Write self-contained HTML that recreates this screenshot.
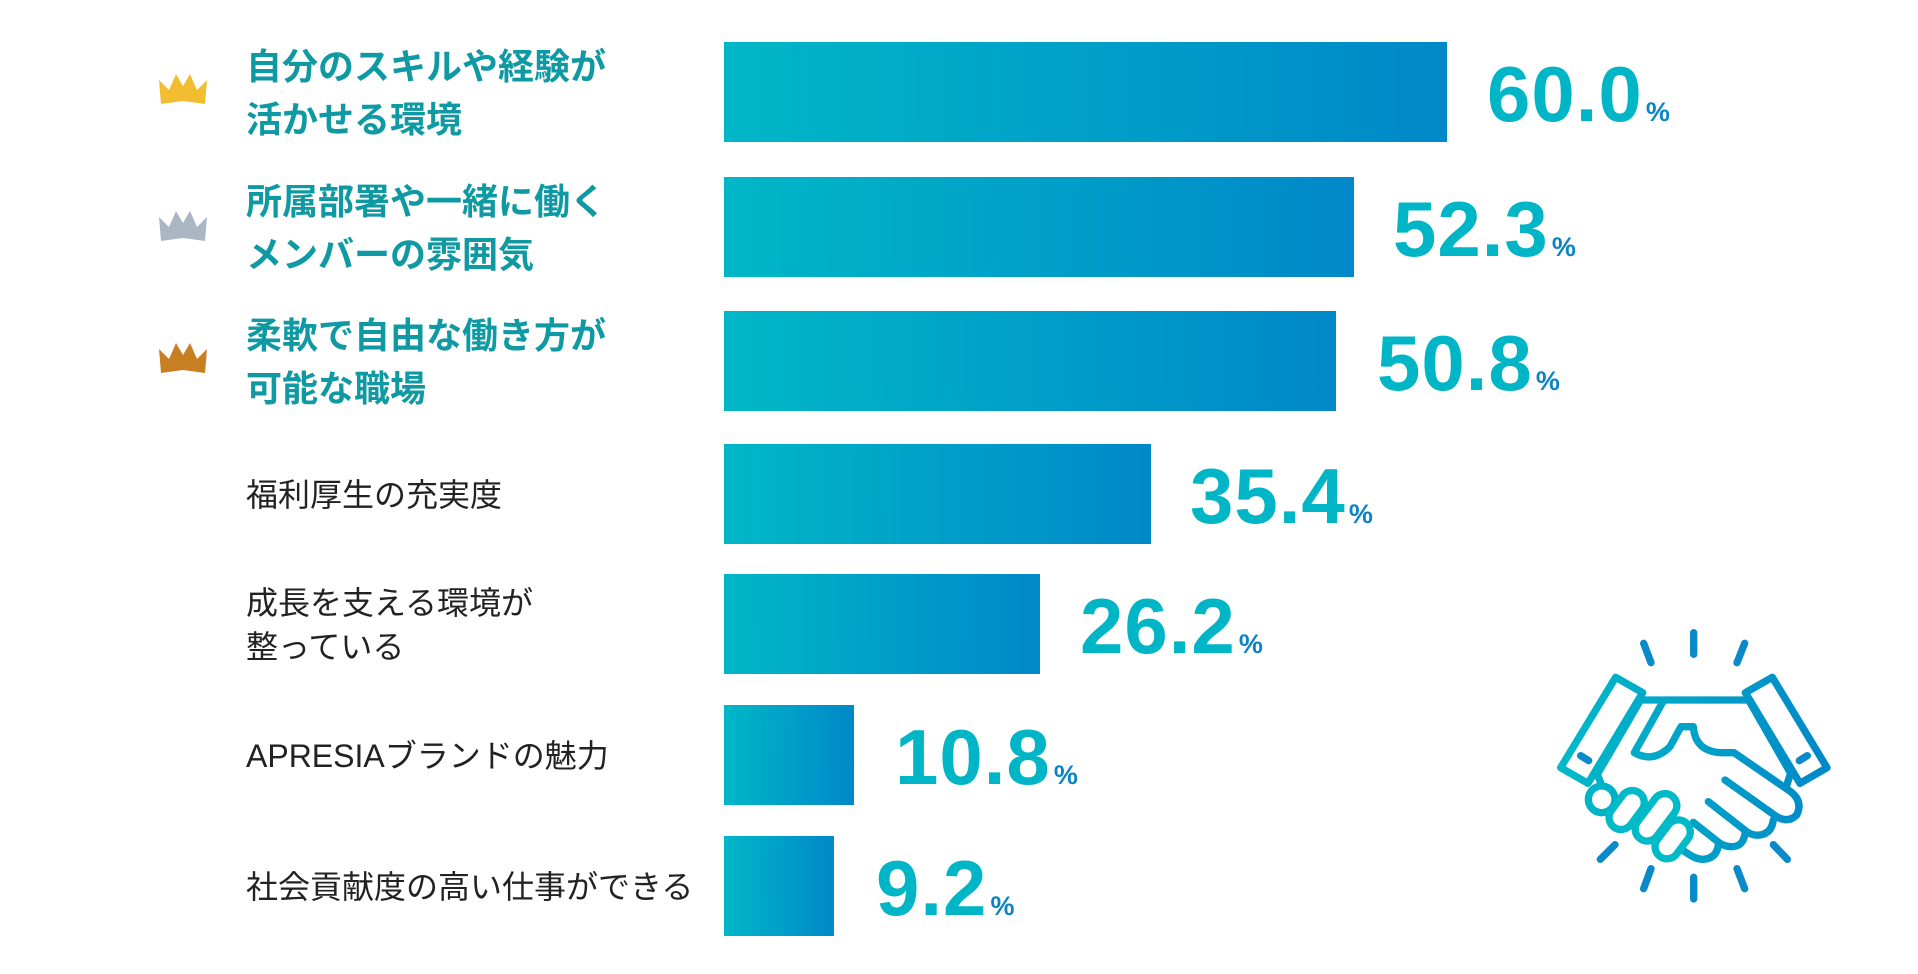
<!DOCTYPE html>
<html><head><meta charset="utf-8"><style>
html,body{margin:0;padding:0;background:#fff;width:1918px;height:974px;overflow:hidden;position:relative}
.bar{position:absolute;left:724px;height:100px;background:linear-gradient(90deg,#00b7c7,#0088c8)}
.val{position:absolute;height:100px;line-height:100px;font-family:"Liberation Sans",sans-serif;font-weight:bold;font-size:78px;color:#00b5c6;white-space:nowrap;letter-spacing:1px}
.val span{font-size:27px;color:#0a84c4;margin-left:3px}
.lab{position:absolute;left:246px;height:100px;display:flex;flex-direction:column;justify-content:center;font-family:"Liberation Sans","Noto Sans CJK JP",sans-serif;white-space:nowrap;padding-top:1px}
.b{font-weight:bold;color:#0f9aa3;font-size:36px;line-height:53px}
.n{color:#222;font-size:32px;line-height:44px}
.crown{position:absolute;left:157px;width:52px;height:36px}
</style></head><body>
<div class="bar" style="top:42px;width:723px"></div>
<div class="bar" style="top:177px;width:630px"></div>
<div class="bar" style="top:311px;width:612px"></div>
<div class="bar" style="top:444px;width:427px"></div>
<div class="bar" style="top:574px;width:316px"></div>
<div class="bar" style="top:705px;width:130px"></div>
<div class="bar" style="top:836px;width:110px"></div>

<div class="val" style="top:44px;left:1487px">60.0<span>%</span></div>
<div class="val" style="top:179px;left:1393px">52.3<span>%</span></div>
<div class="val" style="top:313px;left:1377px">50.8<span>%</span></div>
<div class="val" style="top:446px;left:1190px">35.4<span>%</span></div>
<div class="val" style="top:576px;left:1080px">26.2<span>%</span></div>
<div class="val" style="top:707px;left:895px">10.8<span>%</span></div>
<div class="val" style="top:838px;left:876px">9.2<span>%</span></div>

<div class="lab" style="top:42px"><div class="b">自分のスキルや経験が</div><div class="b">活かせる環境</div></div>
<div class="lab" style="top:177px"><div class="b">所属部署や一緒に働く</div><div class="b">メンバーの雰囲気</div></div>
<div class="lab" style="top:311px"><div class="b">柔軟で自由な働き方が</div><div class="b">可能な職場</div></div>
<div class="lab" style="top:444px"><div class="n">福利厚生の充実度</div></div>
<div class="lab" style="top:574px"><div class="n">成長を支える環境が</div><div class="n">整っている</div></div>
<div class="lab" style="top:705px"><div class="n">APRESIAブランドの魅力</div></div>
<div class="lab" style="top:836px"><div class="n">社会貢献度の高い仕事ができる</div></div>

<svg class="crown" style="top:70px" viewBox="0 0 52 36"><polygon points="2,10 12,20 19,4 26,16 33,4 40,20 50,10 48,34 26,31 4,34" fill="#f3bd32"/></svg>
<svg class="crown" style="top:207px" viewBox="0 0 52 36"><polygon points="2,10 12,20 19,4 26,16 33,4 40,20 50,10 48,34 26,31 4,34" fill="#abb6c2"/></svg>
<svg class="crown" style="top:339px" viewBox="0 0 52 36"><polygon points="2,10 12,20 19,4 26,16 33,4 40,20 50,10 48,34 26,31 4,34" fill="#c77f22"/></svg>

<svg style="position:absolute;left:1400px;top:600px;width:518px;height:374px" viewBox="0 0 1554 1122">
<defs><linearGradient id="g" x1="480" y1="0" x2="1290" y2="0" gradientUnits="userSpaceOnUse"><stop offset="0" stop-color="#00bac8"/><stop offset="1" stop-color="#0088c8"/></linearGradient></defs>
<g fill="none" stroke="url(#g)" stroke-width="22" stroke-linecap="round" stroke-linejoin="round">
<path d="M881 98V163M731 130L753 188M1034 130L1011 188M645 734L601 778M1120 734L1162 778M753 806L731 866M881 832V897M1011 806L1034 866" stroke="#0a8ac8"/>
<path d="M647 232L728 278L564 550L482 503Z"/>
<path d="M1117 232L1036 278L1200 550L1281 503Z"/>
<path d="M542 467L566 482M1198 482L1222 467" stroke="#0a8ac8"/>
<path d="M720 300H1046"/>
<path d="M716 310L592 523L602 548"/>
<path d="M1046 300L1172 520L1160 556"/>
<path d="M790 303L703 458Q760 490 810 440L843 380L880 380Q885 455 965 458L1002 458L1172 575Q1210 605 1190 645Q1165 670 1130 650L975 540"/>
<path d="M1120 660Q1115 700 1080 705Q1060 708 1040 695L925 605"/>
<path d="M1035 700Q1030 740 995 740Q975 740 960 730L880 667"/>
<path d="M955 735Q950 775 910 778Q890 778 870 765L850 752"/>
<circle cx="605" cy="598" r="40"/>
<rect x="-36" y="-64" width="72" height="128" rx="36" transform="translate(680,630) rotate(37)"/>
<rect x="-36" y="-80" width="72" height="160" rx="36" transform="translate(768,652) rotate(37)"/>
<rect x="-36" y="-64" width="72" height="128" rx="36" transform="translate(818,718) rotate(37)"/>
</g></svg>
</body></html>
